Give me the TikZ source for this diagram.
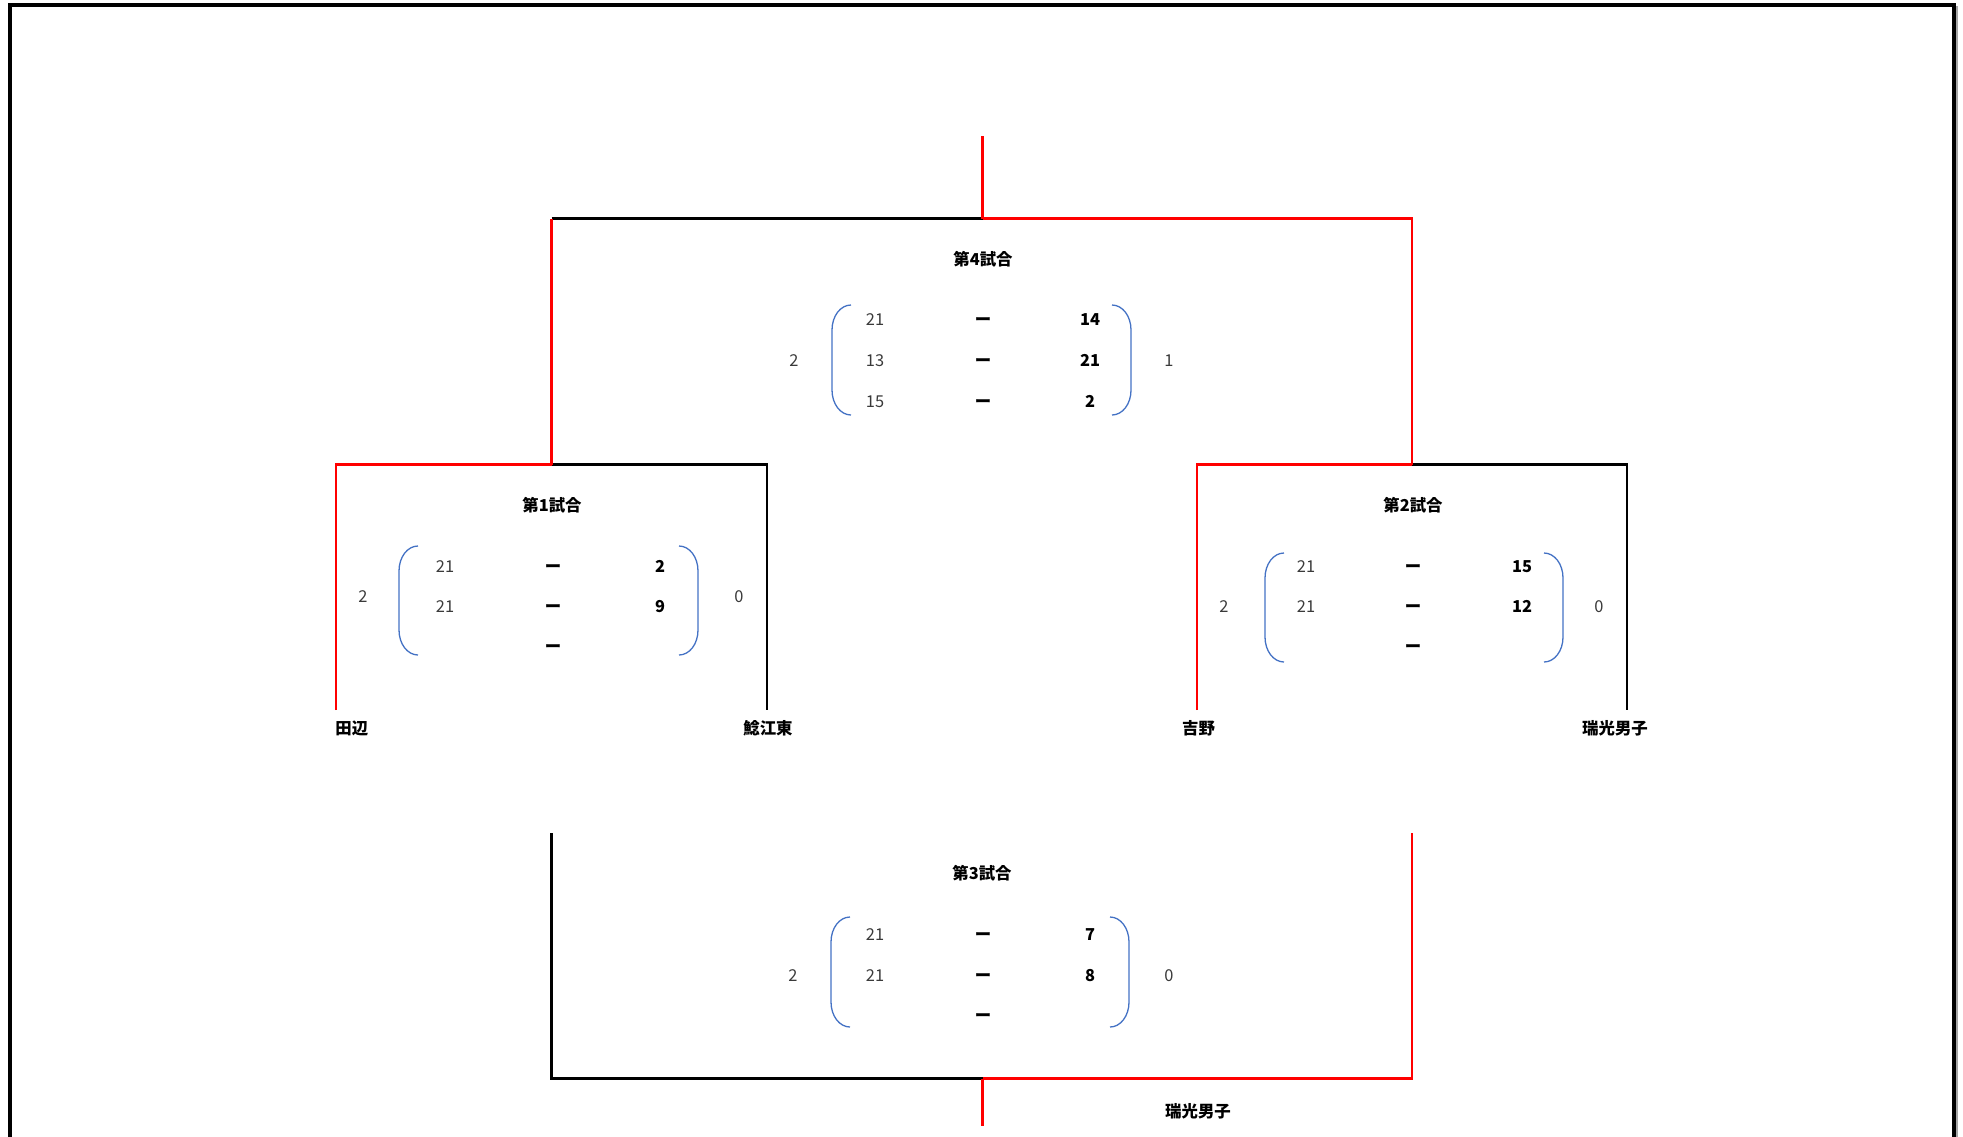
\documentclass[tikz,border=0pt]{standalone}
\usepackage{fontspec}
\setmainfont{Noto Sans CJK JP}
\definecolor{brk}{HTML}{4472C4}
\definecolor{thin}{HTML}{3A3A3A}
\newcommand\mylbrk[4]{% x, top, bottom, name
  \draw[brk, line width=0.65pt] ({#1+19},#2) .. controls ({#1+8.5},#2) and (#1,{#2+11}) .. (#1,{#2+25})
     -- (#1,{#3-25}) .. controls (#1,{#3-11}) and ({#1+8.5},#3) .. ({#1+19},#3);}
\newcommand\myrbrk[4]{% x(right edge), top, bottom, name
  \draw[brk, line width=0.65pt] ({#1-19},#2) .. controls ({#1-8.5},#2) and (#1,{#2+11}) .. (#1,{#2+25})
     -- (#1,{#3-25}) .. controls (#1,{#3-11}) and ({#1-8.5},#3) .. ({#1-19},#3);}
\begin{document}
\begin{tikzpicture}[x=0.5pt,y=-0.5pt,
  win/.style={line width=1.4pt, red},
  lose/.style={line width=1.4pt, black},
  txt/.style={font=\fontsize{8.2pt}{10pt}\selectfont, inner sep=0pt, anchor=base, yshift=-3pt},
  title/.style={txt, font=\fontsize{8.2pt}{10pt}\selectfont\bfseries},
  lsc/.style={txt, text=thin},
  rsc/.style={txt, font=\fontsize{8.2pt}{10pt}\selectfont\bfseries},
  dsh/.style={txt, font=\fontsize{8.2pt}{10pt}\selectfont\bfseries},
  tot/.style={txt, text=thin},
  team/.style={txt, font=\fontsize{8.2pt}{10pt}\selectfont\bfseries}]
\useasboundingbox (0,0) rectangle (1963,1136);
% frame
\draw[line width=2pt] (10,1140) -- (10,4.5) -- (1954,4.5) -- (1954,1140);
\draw[line width=0.8pt, gray!70] (1957,6) -- (1957,1140);

% coordinates
\coordinate (t4) at (982.5,136);
\coordinate (j4) at (982.5,218.5);
\coordinate (c4l) at (551.5,218.5);
\coordinate (c4r) at (1412,218.5);
\coordinate (j1) at (551.5,464.5);
\coordinate (c1l) at (336,464.5);
\coordinate (c1r) at (767,464.5);
\coordinate (e1l) at (336,710);
\coordinate (e1r) at (767,710);
\coordinate (j2) at (1412,464.5);
\coordinate (c2l) at (1197,464.5);
\coordinate (c2r) at (1627,464.5);
\coordinate (e2l) at (1197,710);
\coordinate (e2r) at (1627,710);
\coordinate (s3l) at (551.5,833);
\coordinate (s3r) at (1412,833);
\coordinate (c3l) at (551.5,1078.5);
\coordinate (c3r) at (1412,1078.5);
\coordinate (j3) at (982.5,1078.5);
\coordinate (b3) at (982.5,1126);

% losing (black) lines
\draw[lose] (c4l) -- (j4);
\draw[lose] (j1) -- (c1r) -- (e1r);
\draw[lose] (j2) -- (c2r) -- (e2r);
\draw[lose] (s3l) -- (c3l) -- (j3);
% winning (red) lines
\draw[win] (t4) -- (j4);
\draw[win] (j4) -- (c4r) -- (j2);
\draw[win] (j1) -- (c4l);
\draw[win] (e1l) -- (c1l) -- (j1);
\draw[win] (e2l) -- (c2l) -- (j2);
\draw[win] (j3) -- (c3r) -- (s3r);
\draw[win] (j3) -- (b3);

% team names
\node[team, anchor=base west] (tn1) at (335,728) {田辺};
\node[team] (tn2) at (768,728) {鯰江東};
\node[team] (tn3) at (1198.5,728) {吉野};
\node[team] (tn4) at (1615,728) {瑞光男子};
\node[team] (champ) at (1198,1111) {瑞光男子};

% Match 4
\node[title] (m4t) at (983,259) {第4試合};
\mylbrk{832}{305}{415}{}
\myrbrk{1131}{305}{415}{}
\node[lsc] (m4a1) at (875,319) {21};
\node[dsh] (m4d1) at (983,319) {ー};
\node[rsc] (m4b1) at (1090,319) {14};
\node[lsc] (m4a2) at (875,360) {13};
\node[dsh] (m4d2) at (983,360) {ー};
\node[rsc] (m4b2) at (1090,360) {21};
\node[lsc] (m4a3) at (875,401) {15};
\node[dsh] (m4d3) at (983,401) {ー};
\node[rsc] (m4b3) at (1090,401) {2};
\node[tot] (m4l) at (794,360) {2};
\node[tot] (m4r) at (1169,360) {1};

% Match 1
\node[title] (m1t) at (552,505) {第1試合};
\mylbrk{399}{546}{655}{}
\myrbrk{698}{546}{655}{}
\node[lsc] (m1a1) at (445,566) {21};
\node[dsh] (m1d1) at (553,566) {ー};
\node[rsc] (m1b1) at (660,566) {2};
\node[lsc] (m1a2) at (445,606) {21};
\node[dsh] (m1d2) at (553,606) {ー};
\node[rsc] (m1b2) at (660,606) {9};
\node[dsh] (m1d3) at (553,646) {ー};
\node[tot] (m1l) at (363,596) {2};
\node[tot] (m1r) at (739,596) {0};

% Match 2
\node[title] (m2t) at (1413,505) {第2試合};
\mylbrk{1265}{553}{662}{}
\myrbrk{1563}{553}{662}{}
\node[lsc] (m2a1) at (1306,566) {21};
\node[dsh] (m2d1) at (1413,566) {ー};
\node[rsc] (m2b1) at (1522,566) {15};
\node[lsc] (m2a2) at (1306,606) {21};
\node[dsh] (m2d2) at (1413,606) {ー};
\node[rsc] (m2b2) at (1522,606) {12};
\node[dsh] (m2d3) at (1413,646) {ー};
\node[tot] (m2l) at (1224,606) {2};
\node[tot] (m2r) at (1599,606) {0};

% Match 3
\node[title] (m3t) at (982,873) {第3試合};
\mylbrk{831}{917}{1027}{}
\myrbrk{1129}{917}{1027}{}
\node[lsc] (m3a1) at (875,934) {21};
\node[dsh] (m3d1) at (983,934) {ー};
\node[rsc] (m3b1) at (1090,934) {7};
\node[lsc] (m3a2) at (875,975) {21};
\node[dsh] (m3d2) at (983,975) {ー};
\node[rsc] (m3b2) at (1090,975) {8};
\node[dsh] (m3d3) at (983,1015) {ー};
\node[tot] (m3l) at (793,975) {2};
\node[tot] (m3r) at (1169,975) {0};
\end{tikzpicture}
\end{document}
